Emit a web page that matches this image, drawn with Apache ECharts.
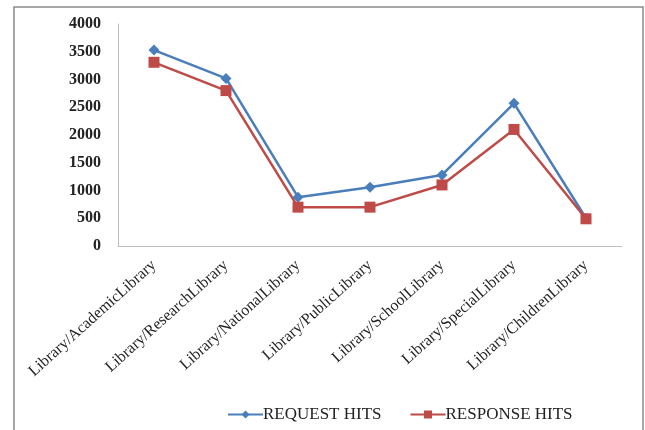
<!DOCTYPE html>
<html>
<head>
<meta charset="utf-8">
<script src="https://cdn.jsdelivr.net/npm/echarts@6/dist/echarts.min.js"></script>
<style>
  html, body { margin: 0; padding: 0; background: #fff; }
  #chart { width: 645px; height: 430px; }
</style>
</head>
<body>
<div id="chart"></div>
<script>
// categories and values
const categories = [
  'Library/AcademicLibrary', 'Library/ResearchLibrary', 'Library/NationalLibrary',
  'Library/PublicLibrary', 'Library/SchoolLibrary', 'Library/SpecialLibrary', 'Library/ChildrenLibrary'
];
const requestHits = [3530, 3020, 880, 1060, 1280, 2570, 500];
const responseHits = [3310, 2800, 700, 700, 1100, 2100, 490];

const myChart = echarts.init(document.getElementById('chart'));
const serif = '"Liberation Serif", "DejaVu Serif", serif';

const option = {
  animation: false,
  textStyle: { fontFamily: serif },
  graphic: [
    {
      type: 'rect',
      shape: { x: 14, y: 7, width: 629, height: 440 },
      style: { fill: 'none', stroke: '#8a8a8a', lineWidth: 1.5 }
    }
  ],
  grid: { left: 118, right: 23, top: 24, bottom: 184 },
  legend: {
    left: 222,
    top: 401,
    itemWidth: 35,
    itemHeight: 10,
    itemGap: 28,
    textStyle: { fontFamily: serif, fontSize: 17, color: '#222', padding: [0, 0, 0, -5] },
    data: ['REQUEST HITS', 'RESPONSE HITS']
  },
  xAxis: {
    type: 'category',
    data: categories,
    axisLine: { lineStyle: { color: '#bfbfbf', width: 1 } },
    axisTick: { show: false },
    axisLabel: {
      interval: 0,
      rotate: 42,
      margin: 17,
      fontFamily: serif,
      fontSize: 16,
      color: '#222'
    }
  },
  yAxis: {
    type: 'value',
    min: 0,
    max: 4000,
    interval: 500,
    axisLine: { show: true, lineStyle: { color: '#bfbfbf', width: 1 } },
    axisTick: { show: false },
    splitLine: { show: false },
    axisLabel: {
      margin: 17,
      fontFamily: serif,
      fontSize: 16,
      fontWeight: 'bold',
      color: '#222',
      formatter: (v) => String(v)
    }
  },
  series: [
    {
      name: 'REQUEST HITS',
      type: 'line',
      data: requestHits,
      symbol: 'diamond',
      symbolSize: 11,
      lineStyle: { color: '#4a7ebb', width: 2.5 },
      itemStyle: { color: '#4a7ebb' }
    },
    {
      name: 'RESPONSE HITS',
      type: 'line',
      data: responseHits,
      symbol: 'rect',
      symbolSize: 11,
      lineStyle: { color: '#be4b48', width: 2.5 },
      itemStyle: { color: '#be4b48' }
    }
  ]
};
myChart.setOption(option);
</script>
</body>
</html>
